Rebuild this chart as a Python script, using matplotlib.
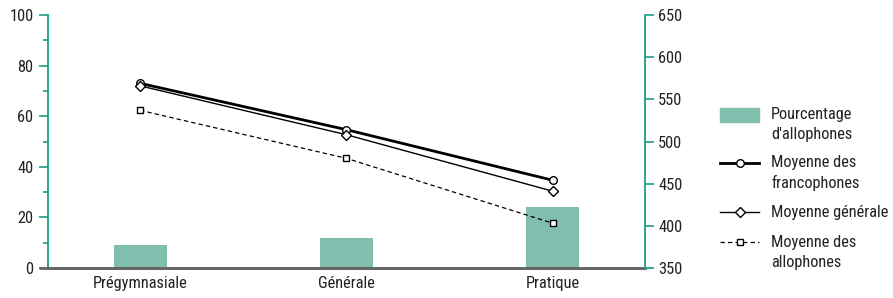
import matplotlib
matplotlib.use("Agg")
import matplotlib.pyplot as plt
from matplotlib import font_manager
from matplotlib.lines import Line2D
from matplotlib.patches import Rectangle
import numpy as np

# ---- data ----
categories = ["Prégymnasiale", "Générale", "Pratique"]
pct_allophones = [9.1, 11.7, 24.0]
moy_francophones = [569, 514, 454]
moy_generale = [566, 508, 441]
moy_allophones = [537, 480, 403]
left_ticks = [0, 20, 40, 60, 80, 100]
right_ticks = [350, 400, 450, 500, 550, 600, 650]
legend_labels = ["Pourcentage\nd'allophones", "Moyenne des\nfrancophones",
                 "Moyenne générale", "Moyenne des\nallophones"]

# ---- style ----
avail = {f.name for f in font_manager.fontManager.ttflist}
fam = "Liberation Sans"
for cand in ["Liberation Sans Narrow", "Nimbus Sans Narrow", "Roboto Condensed",
             "Archivo Narrow", "Open Sans Condensed", "Barlow Semi Condensed"]:
    if cand in avail:
        fam = cand
        break
plt.rcParams["font.family"] = [fam, "DejaVu Sans"]
FS = 11.8
TEAL = "#1a9e86"
BAR = "#80bfae"
GRAY = "#666666"
TXT = "#222222"

W, H = 893, 298
fig = plt.figure(figsize=(W / 100, H / 100), dpi=100)
ax = fig.add_axes([48 / W, 30 / H, (645 - 48) / W, (268 - 15) / H])

x = np.arange(len(categories))
ax.bar(x, pct_allophones, width=0.257, color=BAR, zorder=2)
ax.set_xlim(-0.446, 2.446)
ax.set_ylim(0, 100)
ax.set_yticks(left_ticks)
ax.set_yticks([10, 30, 50, 70, 90], minor=True)
ax.set_xticks(x)
ax.set_xticklabels(categories)
ax.tick_params(axis="x", length=0, pad=6, labelsize=FS, labelcolor=TXT)
ax.tick_params(axis="y", which="major", length=6.5, width=1.2, color=TEAL,
               pad=4, labelsize=FS, labelcolor=TXT)
ax.tick_params(axis="y", which="minor", length=3.5, width=1.2, color=TEAL)
for s in ["top", "right"]:
    ax.spines[s].set_visible(False)
ax.spines["left"].set_color(TEAL)
ax.spines["left"].set_linewidth(1.3)
ax.spines["bottom"].set_color(GRAY)
ax.spines["bottom"].set_linewidth(2)
ax.plot([-9 / 597, 1], [0, 0], transform=ax.transAxes, color=GRAY, lw=2,
        clip_on=False, zorder=5, solid_capstyle="butt")

ax2 = ax.twinx()
ax2.set_ylim(350, 650)
ax2.set_yticks(right_ticks)
ax2.tick_params(axis="y", length=6.5, width=1.2, color=TEAL, pad=3,
                labelsize=FS, labelcolor=TXT)
for s in ["top", "left", "bottom"]:
    ax2.spines[s].set_visible(False)
ax2.spines["right"].set_color(TEAL)
ax2.spines["right"].set_linewidth(1.3)

ax2.plot(x, moy_francophones, color="black", lw=2.0, marker="o", ms=5.5,
         mfc="white", mec="black", mew=1.0, zorder=4)
ax2.plot(x, moy_generale, color="black", lw=1.0, marker="D", ms=5,
         mfc="white", mec="black", mew=1.0, zorder=4)
ax2.plot(x, moy_allophones, color="black", lw=0.9, ls=(0, (3.5, 2.5)), marker="s",
         ms=5, mfc="white", mec="black", mew=1.0, zorder=4)

# ---- legend (pixel coordinates) ----
lg = fig.add_axes([0, 0, 1, 1])
lg.set_xlim(0, W)
lg.set_ylim(H, 0)
lg.axis("off")
hx0, hx1, tx = 720, 759, 771
lg.add_patch(Rectangle((hx0, 108), hx1 - hx0, 14, color=BAR))
ys = [115, 163, 212, 242]
styles = [None,
          dict(lw=2.0, ls="-", marker="o", ms=5.5),
          dict(lw=1.0, ls="-", marker="D", ms=5),
          dict(lw=0.9, ls=(0, (3.5, 2.5)), marker="s", ms=5)]
for lab, y, st in zip(legend_labels, ys, styles):
    if st is not None:
        lg.add_line(Line2D([hx0, hx1], [y, y], color="black", lw=st["lw"], ls=st["ls"]))
        lg.add_line(Line2D([(hx0 + hx1) / 2], [y], marker=st["marker"], ms=st["ms"],
                           mfc="white", mec="black", mew=1.0, ls="none"))
    for i, line in enumerate(lab.split("\n")):
        lg.text(tx, y + i * 20, line, fontsize=FS, color=TXT, va="center", ha="left")

fig.savefig("out.png", dpi=100)
